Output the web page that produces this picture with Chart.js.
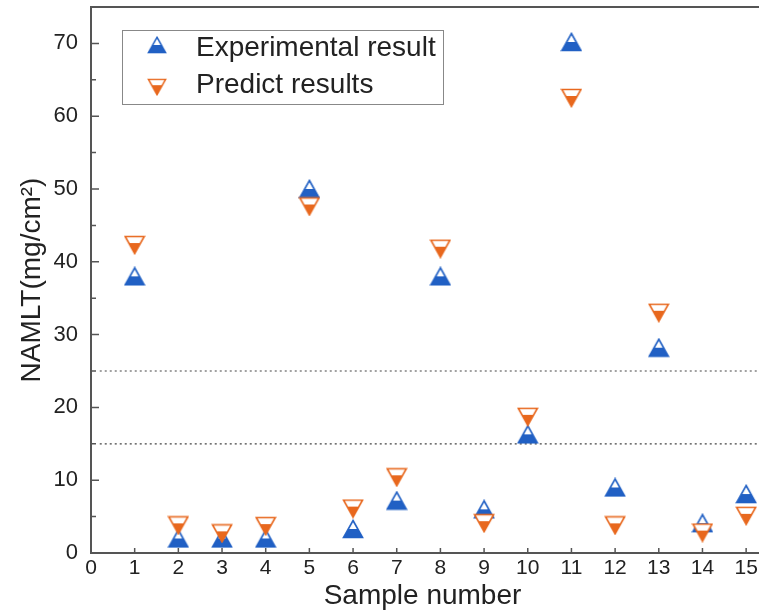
<!DOCTYPE html>
<html>
<head>
<meta charset="utf-8">
<script src="https://cdn.jsdelivr.net/npm/chart.js@4"></script>
<style>
  html, body { margin: 0; padding: 0; background: #fff; }
  #wrap { width: 759px; height: 613px; }
</style>
</head>
<body>
<div id="wrap"><canvas id="chart" width="759" height="613"></canvas></div>
<script>
// Data
const samples = [1, 2, 3, 4, 5, 6, 7, 8, 9, 10, 11, 12, 13, 14, 15];
const experimental = [38, 2, 2, 2, 50, 3.3, 7.2, 38, 6, 16.3, 70.2, 9, 28.2, 4.1, 8.1];
const predicted = [42.3, 3.8, 2.7, 3.7, 47.6, 6.1, 10.4, 41.8, 4.1, 18.7, 62.5, 3.8, 33, 2.8, 5.1];
const xTicks = [0, 1, 2, 3, 4, 5, 6, 7, 8, 9, 10, 11, 12, 13, 14, 15];
const yTicks = [0, 10, 20, 30, 40, 50, 60, 70];
const yMinorTicks = [5, 15, 25, 35, 45, 55, 65];
const thresholds = [15, 25];

const blue = '#2160c4';
const orange = '#e8681e';
const axisColor = '#555';
const font = "'Liberation Sans', Arial, sans-serif";

// half filled triangle markers
function makeMarker(up, color) {
    const c = document.createElement('canvas');
    c.width = 22;
    c.height = 20;
    const g = c.getContext('2d');
    g.beginPath();
    if (up) {
        g.moveTo(11, 1.5); g.lineTo(20.5, 18.5); g.lineTo(1.5, 18.5);
    } else {
        g.moveTo(1.5, 1.5); g.lineTo(20.5, 1.5); g.lineTo(11, 18.5);
    }
    g.closePath();
    g.fillStyle = '#fff';
    g.fill();
    g.save();
    g.clip();
    g.fillStyle = color;
    if (up) g.fillRect(0, 10, 22, 10);
    else g.fillRect(0, 8, 22, 12);
    g.restore();
    g.lineWidth = 1.6;
    g.strokeStyle = color;
    g.stroke();
    return c;
}
const upMarker = makeMarker(true, blue);
const downMarker = makeMarker(false, orange);

// axis frame (open on the right, cut by the image edge), inward ticks and legend
const framePlugin = {
    id: 'frame',
    afterDraw(chart) {
        const ctx = chart.ctx;
        const a = chart.chartArea;
        const xs = chart.scales.x;
        const ys = chart.scales.y;
        ctx.save();
        ctx.strokeStyle = axisColor;
        ctx.lineWidth = 2;
        ctx.beginPath();
        ctx.moveTo(chart.width, a.top);
        ctx.lineTo(a.left, a.top);
        ctx.lineTo(a.left, a.bottom);
        ctx.lineTo(chart.width, a.bottom);
        ctx.stroke();
        ctx.lineWidth = 1.5;
        ctx.beginPath();
        xTicks.forEach(v => {
            const px = xs.getPixelForValue(v);
            ctx.moveTo(px, a.bottom); ctx.lineTo(px, a.bottom - 5);
        });
        yTicks.forEach(v => {
            const py = ys.getPixelForValue(v);
            ctx.moveTo(a.left, py); ctx.lineTo(a.left + 8, py);
        });
        yMinorTicks.forEach(v => {
            const py = ys.getPixelForValue(v);
            ctx.moveTo(a.left, py); ctx.lineTo(a.left + 5, py);
        });
        ctx.stroke();

        // legend
        const lx = 122, ly = 30, lw = 321, lh = 74;
        ctx.fillStyle = '#fff';
        ctx.fillRect(lx, ly, lw, lh);
        ctx.strokeStyle = '#888';
        ctx.lineWidth = 1;
        ctx.strokeRect(lx + 0.5, ly + 0.5, lw, lh);
        ctx.drawImage(upMarker, 147, 36, 20, 18);
        ctx.drawImage(downMarker, 147, 78, 20, 18);
        ctx.fillStyle = '#222';
        ctx.font = '28px ' + font;
        ctx.textBaseline = 'middle';
        ctx.fillText('Experimental result', 196, 48);
        ctx.fillText('Predict results', 196, 85);
        ctx.restore();
    }
};

const ctx = document.getElementById('chart').getContext('2d');
const chart = new Chart(ctx, {
    type: 'scatter',
    data: {
        datasets: [
            {
                label: 'Experimental result',
                data: samples.map((s, i) => ({ x: s, y: experimental[i] })),
                pointStyle: upMarker,
                clip: false,
                order: 2
            },
            {
                label: 'Predict results',
                data: samples.map((s, i) => ({ x: s, y: predicted[i] })),
                pointStyle: downMarker,
                clip: false,
                order: 1
            },
            ...thresholds.map(t => ({
                type: 'line',
                data: [{ x: 0.2, y: t }, { x: 15.5, y: t }],
                borderColor: '#444',
                borderWidth: 1.2,
                borderDash: [2, 3],
                pointRadius: 0,
                clip: false,
                order: 3
            }))
        ]
    },
    options: {
        responsive: false,
        animation: false,
        layout: { padding: { top: 7, right: 0, left: 0, bottom: 0 } },
        plugins: {
            legend: { display: false },
            tooltip: { enabled: false }
        },
        scales: {
            x: {
                type: 'linear',
                min: 0,
                max: 15.18,
                afterBuildTicks: s => { s.ticks = xTicks.map(v => ({ value: v })); },
                afterFit: s => { s.height = 60; s.paddingLeft = 0; s.paddingRight = 0; },
                grid: { display: false, drawTicks: false },
                border: { display: false },
                ticks: { color: '#222', font: { family: font, size: 21 }, padding: 3, maxRotation: 0, autoSkip: false },
                title: {
                    display: true,
                    text: 'Sample number',
                    color: '#222',
                    font: { family: font, size: 28 },
                    padding: { top: -4, bottom: 0 }
                }
            },
            y: {
                min: 0,
                max: 75,
                afterBuildTicks: s => { s.ticks = yTicks.map(v => ({ value: v })); },
                afterFit: s => { s.width = 91; s.paddingTop = 0; s.paddingBottom = 0; },
                grid: { display: false, drawTicks: false },
                border: { display: false },
                ticks: { color: '#222', font: { family: font, size: 22 }, padding: 13 },
                title: {
                    display: true,
                    text: 'NAMLT(mg/cm²)',
                    color: '#222',
                    font: { family: font, size: 28 },
                    padding: { top: 15, bottom: 0 }
                }
            }
        }
    },
    plugins: [framePlugin]
});
</script>
</body>
</html>
